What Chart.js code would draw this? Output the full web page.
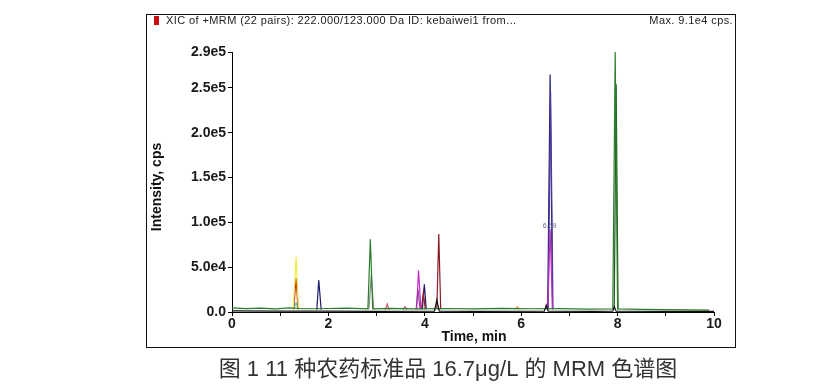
<!DOCTYPE html>
<html>
<head>
<meta charset="utf-8">
<script src="https://cdn.jsdelivr.net/npm/chart.js@4.4.1/dist/chart.umd.min.js"></script>
<style>
  html, body { margin: 0; padding: 0; background: #fff; }
  #wrap { width: 838px; height: 386px; }
</style>
</head>
<body>
<div id="wrap"><canvas id="chart" width="838" height="386"></canvas></div>
<script>
// 坐标轴刻度
const xTickValues = [0, 1, 2, 3, 4, 5, 6, 7, 8, 9, 10];
const yTickValues = [0, 50000, 100000, 150000, 200000, 250000, 290000];
const yTickLabels = ['0.0', '5.0e4', '1.0e5', '1.5e5', '2.0e5', '2.5e5', '2.9e5'];

// 各通道色谱 (时间 min / 强度 cps)，null 断开
const greenTime = [0, 0.3, 0.6, 0.9, 1.2, 1.5, 2.0, 2.4, 2.82, 2.87, 2.92, 3.3, 3.8, 4.4, 5.0, 5.6, 6.2, 6.8, 7.4, 7.9, 7.95, 8.0, 8.5, 9.0, 9.5, 9.9];
const greenCps  = [4500, 3800, 4300, 3500, 4600, 3600, 3900, 4300, 3500, 81000, 3600, 4100, 3400, 3900, 3500, 4000, 3600, 3700, 3300, 3500, 290000, 3400, 3000, 2600, 2400, 2200];

const blackTime = [0, 1.0, 2.0, 3.0, 4.2, 4.25, 4.3, 5.0, 6.48, 6.52, 6.56, 7.5, 7.9, 7.93, 7.97, 9.0, 10];
const blackCps  = [1200, 900, 1000, 800, 900, 13500, 900, 800, 900, 7800, 900, 800, 900, 6000, 900, 700, 600];

const yellowTime = [1.27, 1.33, 1.38];
const yellowCps  = [3000, 61500, 3000];

const redTime = [1.28, 1.33, 1.37];
const redCps  = [3000, 37500, 3000];

const cyanTime = [1.27, 1.33, 1.38];
const cyanCps  = [3000, 10000, 3000];

const navyTime = [1.76, 1.80, 1.85, null, 3.95, 3.99, 4.03, null, 6.55, 6.60, 6.65];
const navyCps  = [2500, 35500, 2500, null, 3000, 31000, 3000, null, 3000, 265000, 3000];

const indigoTime = [6.56, 6.61, 6.66];
const indigoCps  = [3000, 245000, 3000];

const grayTime = [2.84, 2.89, 2.94];
const grayCps  = [3000, 41000, 3000];

const roseTime = [3.18, 3.22, 3.26, null, 3.55, 3.59, 3.63];
const roseCps  = [2500, 9000, 2500, null, 2500, 6000, 2500];

const magentaTime = [3.83, 3.87, 3.92, null, 6.55, 6.60, 6.65];
const magentaCps  = [3000, 46500, 3000, null, 3000, 92000, 3000];

const purpleTime = [3.82, 3.86, 3.90];
const purpleCps  = [3000, 25000, 3000];

const maroonTime = [3.93, 3.97, 4.01, null, 4.25, 4.29, 4.33];
const maroonCps  = [3000, 21500, 3000, null, 3000, 87000, 3000];

const orangeTime = [5.88, 5.92, 5.96];
const orangeCps  = [3000, 6000, 3000];

const darkGreenTime = [7.93, 7.97, 8.01];
const darkGreenCps  = [3000, 254000, 3000];

const peakLabel = { t: 6.59, cps: 96000, text: '6.59' };

function pts(ts, vs) {
  return ts.map((t, i) => t == null ? { x: null, y: null } : { x: t, y: vs[i] });
}

function trace(ts, vs, color) {
  return { data: pts(ts, vs), borderColor: color, borderWidth: 1.2, pointRadius: 0, tension: 0, fill: false, spanGaps: false };
}

const datasets = [
  trace(blackTime, blackCps, '#111111'),
  trace(greenTime, greenCps, '#2a7d2a'),
  trace(grayTime, grayCps, '#8a8a8a'),
  trace(yellowTime, yellowCps, '#ecec3a'),
  trace(redTime, redCps, '#c8283c'),
  trace(cyanTime, cyanCps, '#3cc4c4'),
  trace(roseTime, roseCps, '#c06070'),
  trace(purpleTime, purpleCps, '#9a3aa0'),
  trace(magentaTime, magentaCps, '#c42cc4'),
  trace(maroonTime, maroonCps, '#8a1a26'),
  trace(orangeTime, orangeCps, '#e0a060'),
  trace(indigoTime, indigoCps, '#4a3c9c'),
  trace(navyTime, navyCps, '#1c1c6c'),
  trace(darkGreenTime, darkGreenCps, '#1e5a1e'),
];

const TICK_FONT = { family: 'Arial, "Liberation Sans", sans-serif', size: 14, weight: 'bold' };

// 外框、标题、坐标轴名称、图注
const decor = {
  id: 'decor',
  afterDraw(chart) {
    const c = chart.ctx;
    c.save();
    c.strokeStyle = '#111';
    c.lineWidth = 1;
    c.strokeRect(146.5, 14.5, 589, 333);

    c.fillStyle = '#cc1010';
    c.fillRect(154, 16, 5, 9);

    c.fillStyle = '#222';
    c.font = '11px Arial, "Liberation Sans", sans-serif';
    c.letterSpacing = '0.4px';
    c.textBaseline = 'middle';
    c.textAlign = 'left';
    c.fillText('XIC of +MRM (22 pairs): 222.000/123.000 Da ID: kebaiwei1 from...', 166, 21);
    c.textAlign = 'right';
    c.fillText('Max. 9.1e4 cps.', 733, 21);
    c.letterSpacing = '0px';

    c.fillStyle = '#111';
    c.font = 'bold 14px Arial, "Liberation Sans", sans-serif';
    c.textAlign = 'center';
    c.fillText('Time, min', 474, 337);
    c.save();
    c.translate(157, 187);
    c.rotate(-Math.PI / 2);
    c.fillText('Intensity, cps', 0, 0);
    c.restore();

    const x = chart.scales.x, y = chart.scales.y;
    c.fillStyle = '#6a6a9a';
    c.font = '7px Arial, "Liberation Sans", sans-serif';
    c.fillText(peakLabel.text, x.getPixelForValue(peakLabel.t), y.getPixelForValue(peakLabel.cps));

    c.fillStyle = '#333';
    c.font = '22px Arial, "Liberation Sans", "Noto Sans CJK SC", sans-serif';
    c.fillText('图 1 11 种农药标准品 16.7μg/L 的 MRM 色谱图', 448, 370);
    c.restore();
  }
};

new Chart(document.getElementById('chart').getContext('2d'), {
  type: 'line',
  data: { datasets },
  plugins: [decor],
  options: {
    responsive: false,
    animation: false,
    layout: { padding: { top: 52, right: 124, left: 0, bottom: 0 } },
    plugins: { legend: { display: false }, tooltip: { enabled: false } },
    scales: {
      x: {
        type: 'linear', min: 0, max: 10,
        afterBuildTicks: s => { s.ticks = xTickValues.map(v => ({ value: v })); },
        afterFit: s => { s.height = 74; },
        grid: { display: true, drawOnChartArea: false, drawTicks: true, tickLength: 4, color: '#000' },
        border: { display: true, color: '#000', width: 1 },
        ticks: {
          autoSkip: false, maxRotation: 0, padding: 0, color: '#1a1a1a', font: TICK_FONT,
          callback: v => (v % 2 === 0 ? String(v) : '')
        }
      },
      y: {
        type: 'linear', min: 0, max: 290000,
        afterBuildTicks: s => { s.ticks = yTickValues.map(v => ({ value: v })); },
        afterFit: s => { s.width = 232; },
        grid: { display: true, drawOnChartArea: false, drawTicks: true, tickLength: 4, color: '#000' },
        border: { display: true, color: '#000', width: 1 },
        ticks: {
          autoSkip: false, padding: 2, color: '#1a1a1a', font: TICK_FONT,
          callback: (v, i) => yTickLabels[i]
        }
      }
    }
  }
});
</script>
</body>
</html>
